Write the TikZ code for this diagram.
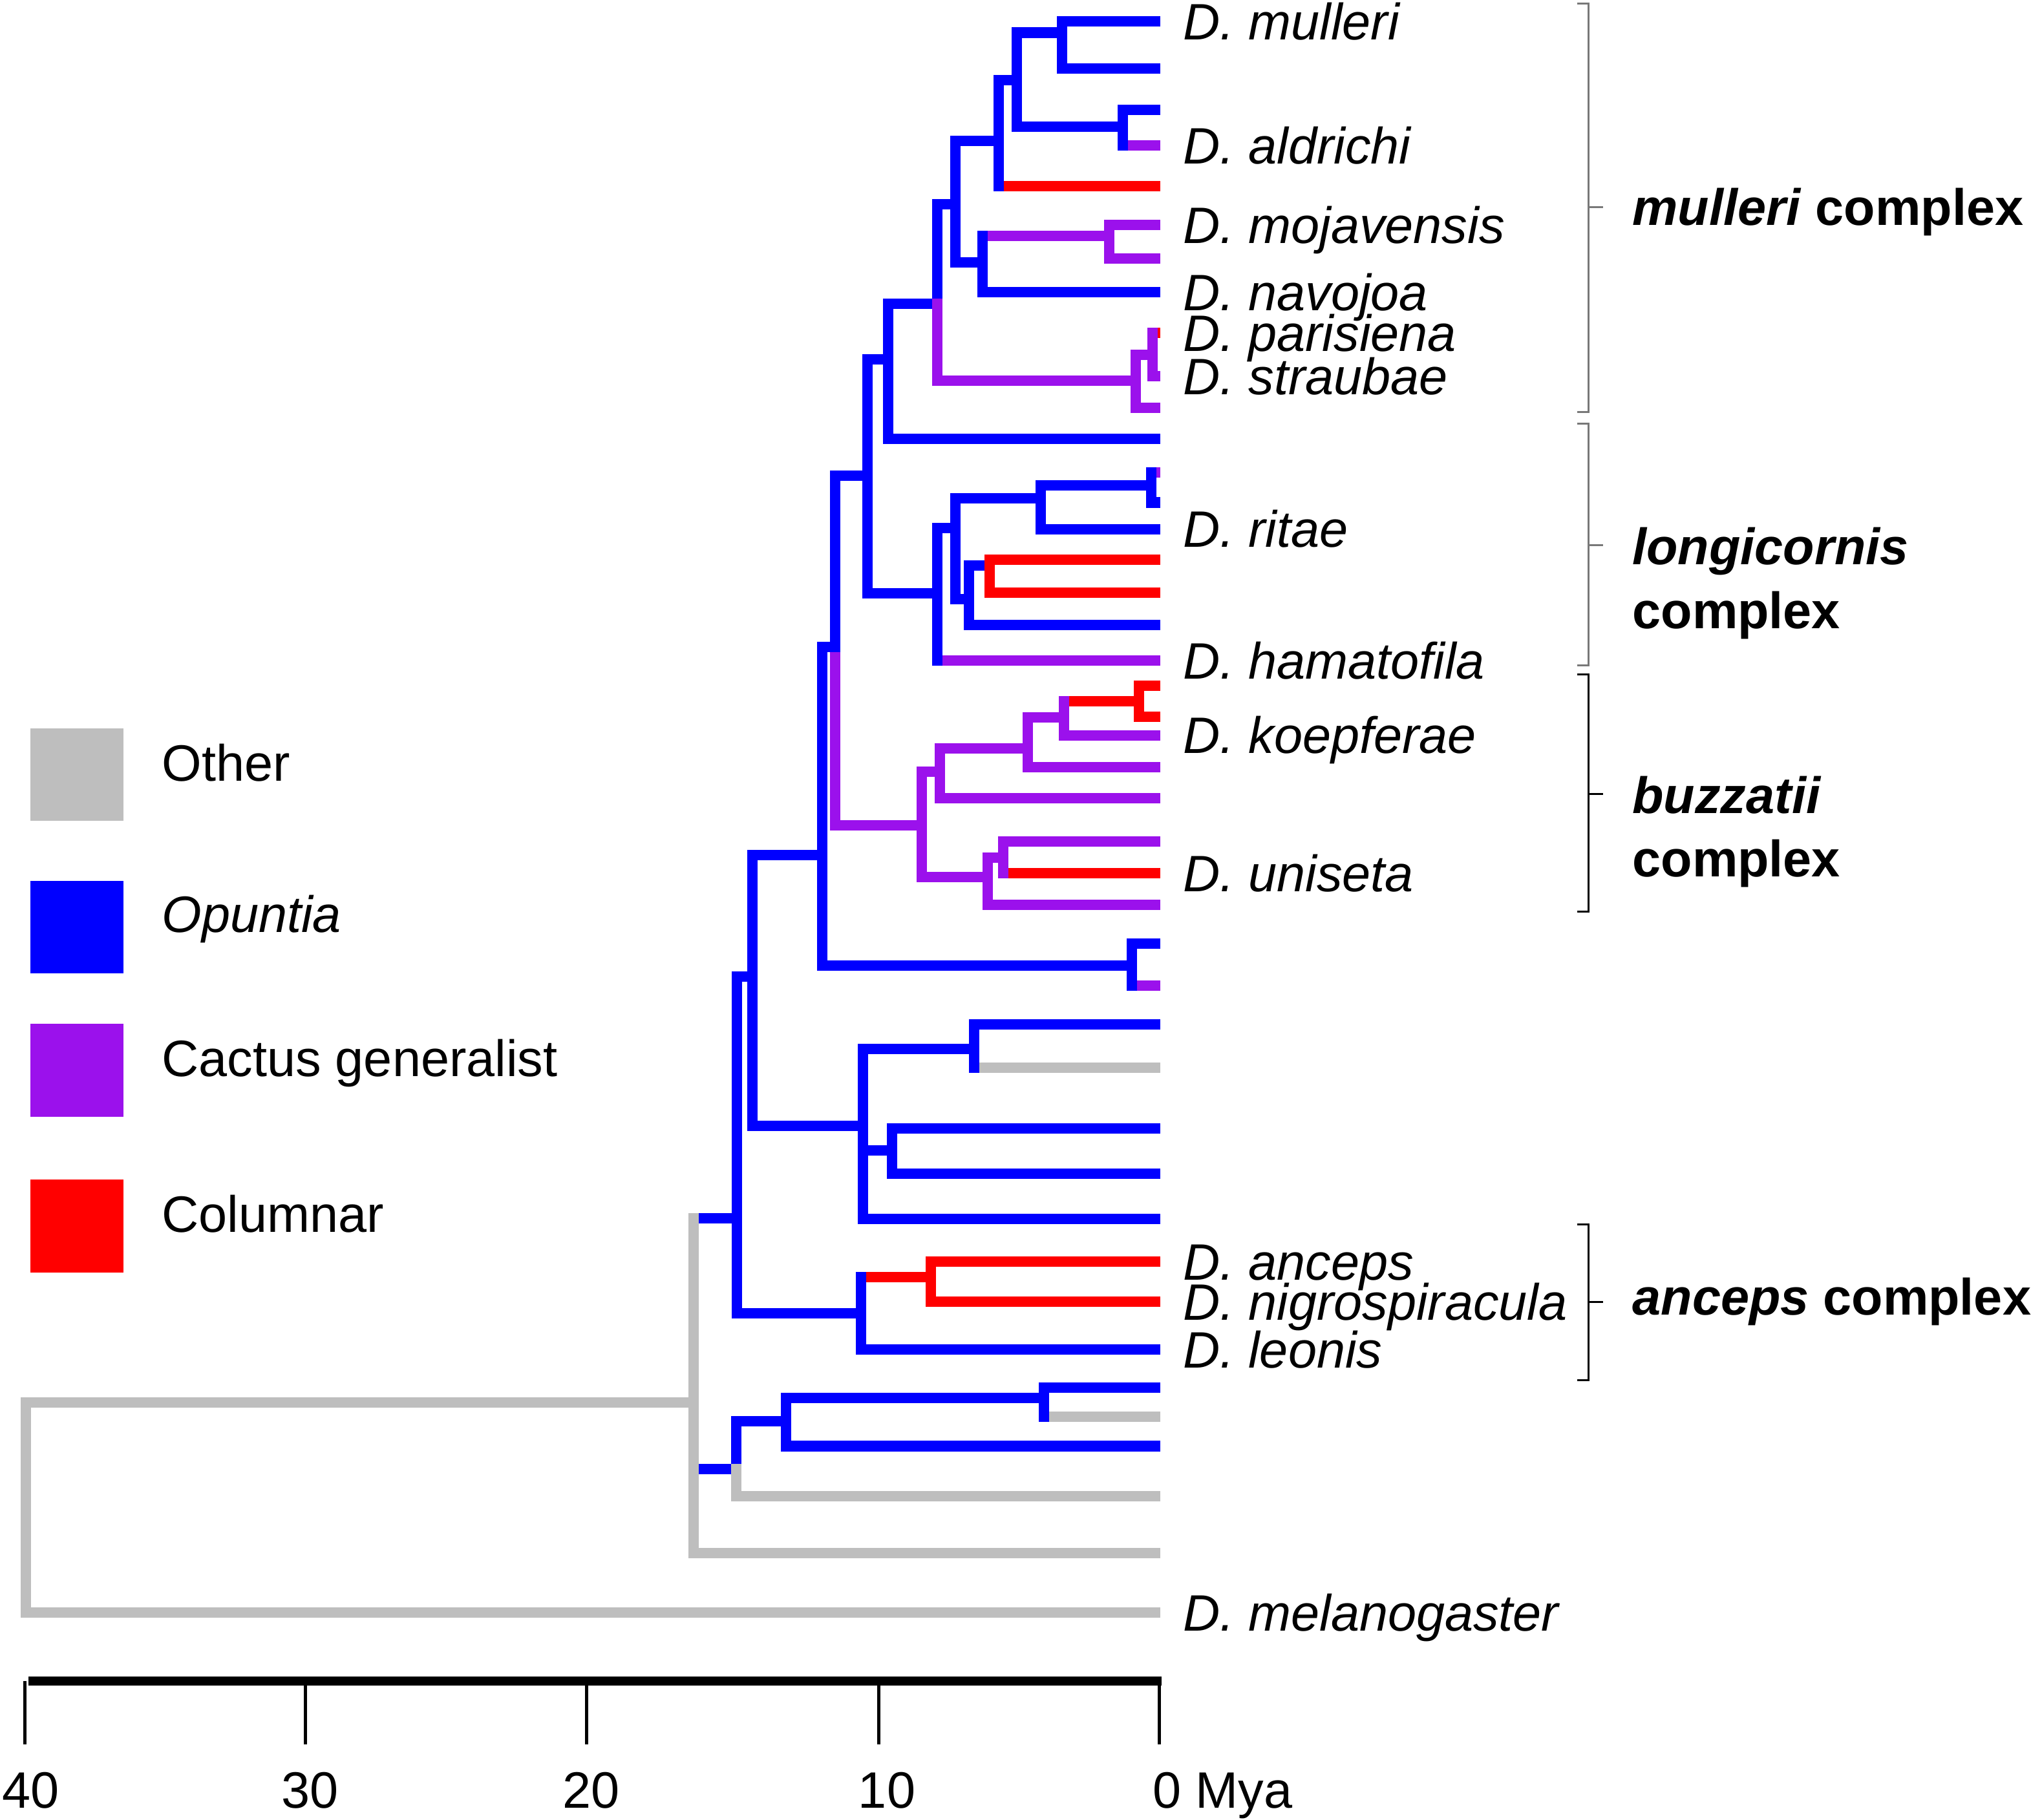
\documentclass[tikz,border=0pt]{standalone}
\usepackage{fontspec}
\setmainfont{Liberation Sans}
\usetikzlibrary{positioning}
\definecolor{opblue}{RGB}{0,0,255}
\definecolor{cgpurple}{RGB}{155,17,236}
\definecolor{clred}{RGB}{255,0,0}
\definecolor{otgray}{RGB}{190,190,190}
\definecolor{brgray}{RGB}{120,120,120}
\tikzset{ br/.style = { line width = 1.6mm
                      , line cap   = rect
                      },
          op/.style = { br, draw = opblue },
          cg/.style = { br, draw = cgpurple },
          cl/.style = { br, draw = clred },
          ot/.style = { br, draw = otgray },
          lab/.style = { font       = {\fontsize{22.5}{27}\selectfont}
                       , inner sep   = 0pt
                       , text height = 16.1pt
                       , text depth  = 0pt
                       },
          sp/.style = { lab
                      , font = {\fontsize{22.5}{27}\selectfont\itshape}
                      },
          grp/.style = { lab
                       , anchor = west
                       , font   = {\fontsize{22.5}{27}\selectfont\bfseries}
                       },
          swatch/.style = { minimum size = 14.32mm
                          , inner sep    = 0pt
                          },
          brk/.style = { line width = 0.3mm },
          bar/.style = { line width = 1.4mm },
          tick/.style = { line width = 0.5mm }
        }

\begin{document}
\begin{tikzpicture}[x=0.2mm, y=-0.2mm]
\useasboundingbox (0,0) rectangle (1568,1405);
% tips
\coordinate (t1) at (892,16.7);   \coordinate (t2) at (892,53);
\coordinate (t3) at (892,84.7);   \coordinate (t4) at (892,112.5);
\coordinate (t5) at (892,143.7);  \coordinate (t6) at (892,173.5);
\coordinate (t7) at (892,199.8);  \coordinate (t8) at (892,225.7);
\coordinate (t9) at (892,257);    \coordinate (t10) at (892,290.3);
\coordinate (t11) at (892,315);   \coordinate (t12) at (892,339);
\coordinate (t13) at (892,365);   \coordinate (t14) at (892,388);
\coordinate (t15) at (892,408.5); \coordinate (t16) at (892,432);
\coordinate (t17) at (892,457.4); \coordinate (t18) at (892,482.5);
\coordinate (t19) at (892,510);   \coordinate (t20) at (892,529.6);
\coordinate (t21) at (892,553.4); \coordinate (t22) at (892,567.7);
\coordinate (t23) at (892,592.3); \coordinate (t24) at (892,616.5);
\coordinate (t25) at (892,649.6); \coordinate (t26) at (892,674.2);
\coordinate (t27) at (892,698.5); \coordinate (t28) at (892,728.4);
\coordinate (t29) at (892,761.1); \coordinate (t30) at (892,791);
\coordinate (t31) at (892,824.4); \coordinate (t32) at (892,871.2);
\coordinate (t33) at (892,906.3); \coordinate (t34) at (892,941);
\coordinate (t35) at (892,974.3); \coordinate (t36) at (892,1005.3);
\coordinate (t37) at (892,1041.9);\coordinate (t38) at (892,1071.2);
\coordinate (t39) at (892,1093.9);\coordinate (t40) at (892,1116.6);
\coordinate (t41) at (892,1155.2);\coordinate (t42) at (892,1199.4);
\coordinate (t43) at (892,1245);
% internal nodes
\coordinate (A) at (820,25.2);    \coordinate (B) at (784.8,62);
\coordinate (C) at (866.8,98);    \coordinate (D) at (770.9,108.7);
\coordinate (E) at (737.8,157.7); \coordinate (F) at (758.6,202.7);
\coordinate (G) at (856.4,182);   \coordinate (H) at (723.5,234.6);
\coordinate (I) at (877,294);     \coordinate (J) at (890,274);
\coordinate (K) at (685.5,277.4); \coordinate (L) at (669.8,367.2);
\coordinate (M) at (723.6,458);   \coordinate (N) at (737.8,407.8);
\coordinate (O) at (803.6,384.6); \coordinate (Q) at (889,374.6);
\coordinate (P) at (748.2,462.7); \coordinate (R) at (763.9,436.5);
\coordinate (S) at (644.7,499.7); \coordinate (T) at (711.6,637.2);
\coordinate (V) at (725.4,595.9); \coordinate (X) at (793.3,578);
\coordinate (Y) at (821.6,554);   \coordinate (Z) at (879.1,541.7);
\coordinate (W) at (762.3,677);   \coordinate (AA) at (774.7,662.3);
\coordinate (U) at (635,660.3);   \coordinate (AC) at (873.6,745.6);
\coordinate (AB) at (580.7,754.2);\coordinate (AE) at (666.2,869.3);
\coordinate (AH) at (751.9,810);  \coordinate (AI) at (688.9,888.4);
\coordinate (AD) at (568.8,940.9);\coordinate (AG) at (664.5,1014.2);
\coordinate (AJ) at (718.6,986.2);\coordinate (AF) at (535.5,1083);
\coordinate (AK) at (568.6,1134.2);\coordinate (AL) at (606.8,1097.3);
\coordinate (AM) at (805.8,1079.6);\coordinate (root) at (20,1164);
% branches
\draw[op] (B) |- (A);  \draw[op] (A) |- (t1);  \draw[op] (A) |- (t2);
\draw[op] (D) |- (B);  \draw[op] (B) |- (C);
\draw[op] (C) |- (t3); \draw[cg] (C) |- (t4);
\draw[op] (E) |- (D);  \draw[cl] (D) |- (t5);
\draw[op] (H) |- (E);  \draw[op] (E) |- (F);
\draw[cg] (F) |- (G);  \draw[cg] (G) |- (t6);  \draw[cg] (G) |- (t7);
\draw[op] (F) |- (t8);
\draw[op] (K) |- (H);  \draw[cg] (H) |- (I);
\draw[cg] (I) |- (J);  \draw[cl] (J) |- (t9);  \draw[cg] (J) |- (t10);
\draw[cg] (I) |- (t11);
\draw[op] (L) |- (K);  \draw[op] (K) |- (t12);
\draw[op] (L) |- (M);  \draw[op] (M) |- (N);
\draw[op] (N) |- (O);  \draw[op] (O) |- (Q);
\draw[op] (Q) |- (t13); \draw[op] (Q) |- (t14); \draw[op] (O) |- (t15);
\draw[op] (N) |- (P);  \draw[op] (P) |- (R);
\draw[cl] (R) |- (t16); \draw[cl] (R) |- (t17); \draw[op] (P) |- (t18);
\draw[cg] (M) |- (t19);
\draw[cg] (S) |- (T);  \draw[op] (S) |- (L);
\draw[cg] (T) |- (V);  \draw[cg] (V) |- (X);  \draw[cg] (X) |- (Y);
\draw[cl] (Y) |- (Z);  \draw[cl] (Z) |- (t20); \draw[cl] (Z) |- (t21);
\draw[cg] (Y) |- (t22); \draw[cg] (X) |- (t23); \draw[cg] (V) |- (t24);
\draw[cg] (T) |- (W);  \draw[cg] (W) |- (AA);
\draw[cg] (AA) |- (t25); \draw[cl] (AA) |- (t26); \draw[cg] (W) |- (t27);
\draw[op] (U) |- (S);  \draw[op] (U) |- (AC);
\draw[op] (AC) |- (t28); \draw[cg] (AC) |- (t29);
\draw[op] (AB) |- (U); \draw[op] (AB) |- (AE);
\draw[op] (AE) |- (AH); \draw[op] (AH) |- (t30); \draw[ot] (AH) |- (t31);
\draw[op] (AE) |- (AI); \draw[op] (AI) |- (t32); \draw[op] (AI) |- (t33);
\draw[op] (AE) |- (t34);
\draw[op] (AD) |- (AB); \draw[op] (AD) |- (AG);
\draw[cl] (AG) |- (AJ); \draw[cl] (AJ) |- (t35); \draw[cl] (AJ) |- (t36);
\draw[op] (AG) |- (t37);
\draw[op] (AF) |- (AD); \draw[op] (AF) |- (AK);
\draw[op] (AK) |- (AL); \draw[op] (AL) |- (AM);
\draw[op] (AM) |- (t38); \draw[ot] (AM) |- (t39); \draw[op] (AL) |- (t40);
\draw[ot] (AK) |- (t41); \draw[ot] (AF) |- (t42);
\draw[ot] (root) |- (AF); \draw[ot] (root) |- (t43);
% verticals that keep the parent's state
\draw[op] (C) -- (C |- t4);   \draw[op] (D) -- (D |- t5);
\draw[op] (F) -- (F |- G);    \draw[cg] (J) -- (J |- t9);
\draw[op] (M) -- (M |- t19);  \draw[cg] (Y) -- (Y |- Z);
\draw[cg] (AA) -- (AA |- t26); \draw[op] (AC) -- (AC |- t29);
\draw[op] (AH) -- (AH |- t31); \draw[op] (AG) -- (AG |- AJ);
\draw[op] (AM) -- (AM |- t39); \draw[ot] (AF) -- (AF |- AD);
\draw[ot] (AF) -- (AF |- AK);
\draw[cg, line cap=butt] (t13) ++(1,0) -- ++(3,0);
% species
\node[sp, right=4.2mm of t1]  (lmul) {D. mulleri};
\node[sp, right=4.2mm of t4]  (lald) {D. aldrichi};
\node[sp, right=4.2mm of t6]  (lmoj) {D. mojavensis};
\node[sp, right=4.2mm of t8]  (lnav) {D. navojoa};
\node[sp, right=4.2mm of t9]  (lpar) {D. parisiena};
\node[sp, right=4.2mm of t10] (lstr) {D. straubae};
\node[sp, right=4.2mm of t15] (lrit) {D. ritae};
\node[sp, right=4.2mm of t19] (lham) {D. hamatofila};
\node[sp, right=4.2mm of t22] (lkoe) {D. koepferae};
\node[sp, right=4.2mm of t26] (luni) {D. uniseta};
\node[sp, right=4.2mm of t35] (lanc) {D. anceps};
\node[sp, right=4.2mm of t36] (lnig) {D. nigrospiracula};
\node[sp, right=4.2mm of t37] (lleo) {D. leonis};
\node[sp, right=4.2mm of t43] (lmel) {D. melanogaster};
% complexes
\draw[brk, brgray] (1217.7,2.7) -- (1226.4,2.7) -- (1226.4,318) -- (1217.7,318)
                   (1226.4,160) -- (1237.5,160);
\draw[brk, brgray] (1217.7,327) -- (1226.4,327) -- (1226.4,514) -- (1217.7,514)
                   (1226.4,421) -- (1237.5,421);
\draw[brk] (1217.7,520.8) -- (1226.4,520.8) -- (1226.4,704) -- (1217.7,704)
           (1226.4,613) -- (1237.5,613);
\draw[brk] (1217.7,945.6) -- (1226.4,945.6) -- (1226.4,1065.7) -- (1217.7,1065.7)
           (1226.4,1005.3) -- (1237.5,1005.3);
\node[grp] (gmul)  at (1260,159.7) {\textit{mulleri} complex};
\node[grp] (glon)  at (1260,422)   {\textit{longicornis}};
\node[grp] (glon2) at (1260,471)   {complex};
\node[grp] (gbuz)  at (1260,613.7) {\textit{buzzatii}};
\node[grp] (gbuz2) at (1260,662.6) {complex};
\node[grp] (ganc)  at (1260,1001)  {\textit{anceps} complex};
% legend
\node[swatch, fill=otgray]   (kot) at (59.3,598)   {};
\node[swatch, fill=opblue]   (kop) at (59.3,715.8) {};
\node[swatch, fill=cgpurple] (kcg) at (59.3,826.5) {};
\node[swatch, fill=clred]    (kcl) at (59.3,946.8) {};
\node[lab, anchor=west] (tot) at (124.6,588.7) {Other};
\node[lab, anchor=west] (top) at (124.6,705.9) {\itshape Opuntia};
\node[lab, anchor=west] (tcg) at (124.6,816.9) {Cactus generalist};
\node[lab, anchor=west] (tcl) at (124.6,937.3) {Columnar};
% time axis
\coordinate (s40) at (19,1298);  \coordinate (s30) at (236,1298);
\coordinate (s20) at (453,1298); \coordinate (s10) at (678.5,1298);
\coordinate (s0) at (895,1298);
\draw[bar] (22,1298) -- (897,1298);
\draw[tick] (s40) -- ++(0,49) (s30) -- ++(0,49) (s20) -- ++(0,49)
            (s10) -- ++(0,49) (s0) -- ++(0,49);
\node[lab, anchor=base] (a40) at (23.5,1396)  {40};
\node[lab, anchor=base] (a30) at (239.4,1396) {30};
\node[lab, anchor=base] (a20) at (456.6,1396) {20};
\node[lab, anchor=base] (a10) at (684.7,1396) {10};
\node[lab, anchor=base west] (a0) at (889.7,1396) {0 Mya};
\end{tikzpicture}
\end{document}
